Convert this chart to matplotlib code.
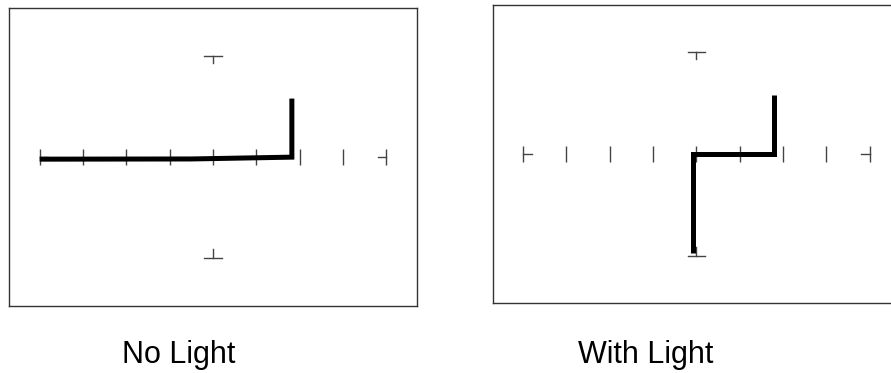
import matplotlib
matplotlib.use('Agg')
import matplotlib.pyplot as plt

# curve tracer readings: x in horizontal divisions, y in vertical units (marker = 1)
no_light_v = [-4.0, -0.5, 1.82, 1.82]
no_light_i = [-0.02, -0.018, 0.0, 0.58]
with_light_v = [-0.07, -0.07, 1.80, 1.80]
with_light_i = [-0.965, 0.0, 0.0, 0.575]
tick_positions = [-4, -3, -2, -1, 0, 1, 2, 3, 4]
titles = ['No Light', 'With Light']

plt.rcParams['font.family'] = ['Liberation Sans', 'DejaVu Sans']

fig = plt.figure(figsize=(8.91, 3.73), dpi=100)
ax_left = fig.add_axes([0.01044, 0.1796, 0.4572, 0.7982])
ax_right = fig.add_axes([0.553, 0.1869, 0.457, 0.7998])

tick_color = '#444444'
tick_h = 0.078
stub = 0.2


def draw_graticule(ax, ylim):
    ax.set_xlim(-4.7, 4.7)
    ax.set_ylim(-ylim, ylim)
    ax.set_xticks([])
    ax.set_yticks([])
    for spine in ax.spines.values():
        spine.set_linewidth(1.0)
        spine.set_color('#333333')
    for x in tick_positions:
        ax.plot([x, x], [-tick_h, tick_h], color=tick_color, lw=1.0, solid_capstyle='butt')
    # end stubs
    ax.plot([tick_positions[0], tick_positions[0] + stub], [0, 0], color=tick_color, lw=1.0)
    ax.plot([tick_positions[-1] - stub, tick_positions[-1]], [0, 0], color=tick_color, lw=1.0)
    # vertical scale markers
    ax.plot([-stub, stub], [1, 1], color=tick_color, lw=1.0)
    ax.plot([0, 0], [1, 0.93], color=tick_color, lw=1.0)
    ax.plot([-stub, stub], [-1, -1], color=tick_color, lw=1.0)
    ax.plot([0, 0], [-1, -0.91], color=tick_color, lw=1.0)


draw_graticule(ax_left, 1.474)
draw_graticule(ax_right, 1.462)

ax_left.plot(no_light_v, no_light_i, color='black', lw=3.6, solid_joinstyle='miter', solid_capstyle='butt')
ax_right.plot(with_light_v, with_light_i, color='black', lw=3.6, solid_joinstyle='miter', solid_capstyle='butt')

fig.text(0.2007, 0.026, titles[0], ha='center', va='baseline', fontsize=22)
fig.text(0.7248, 0.026, titles[1], ha='center', va='baseline', fontsize=22)

fig.savefig('out.png', dpi=100)
plt.close(fig)
